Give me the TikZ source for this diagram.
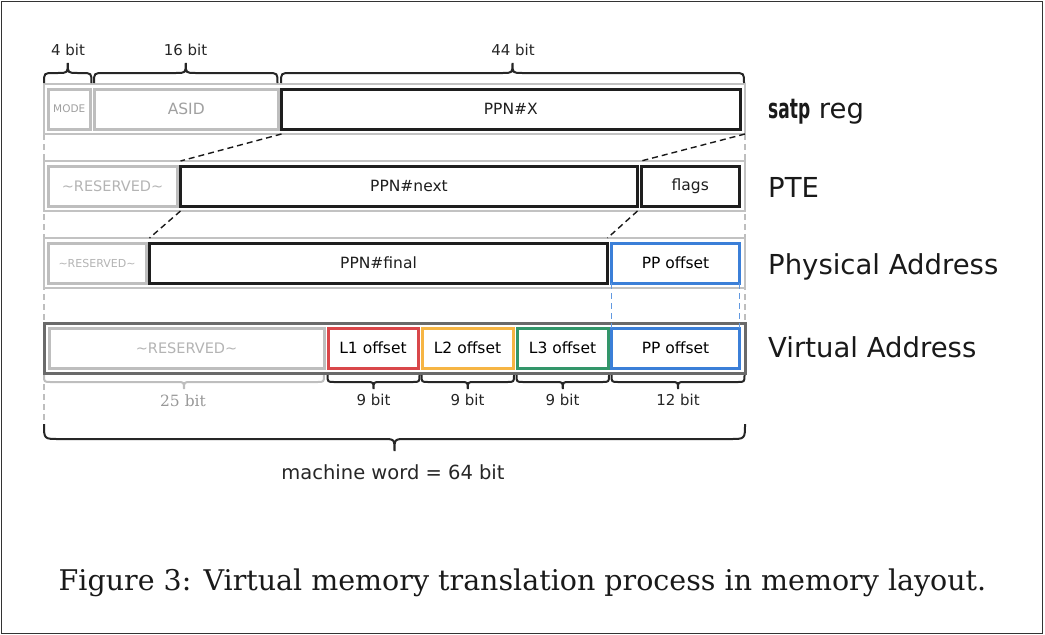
\documentclass[tikz,border=0pt]{standalone}
\usepackage{fontspec}
\setmainfont{DejaVu Sans}
\newfontfamily\capfont{DejaVu Serif}
\newfontfamily\satpfont{DejaVu Sans}[FakeStretch=0.62]
\usetikzlibrary{calc}
\definecolor{rowline}{HTML}{C2C2C2}
\definecolor{vaout}{HTML}{6A6A6A}
\definecolor{gboxc}{HTML}{BEBEBE}
\definecolor{gtext}{HTML}{A0A0A0}
\definecolor{ltext}{HTML}{B4B4B4}
\definecolor{kboxc}{HTML}{1E1E1E}
\definecolor{redc}{HTML}{D9474A}
\definecolor{orangec}{HTML}{F6B544}
\definecolor{greenc}{HTML}{33966A}
\definecolor{bluec}{HTML}{3B7FD8}
\definecolor{frame}{HTML}{333333}
\newcommand\fsz[1]{\fontsize{#1}{#1}\selectfont}
% brace: style, x1, x2, yEnd, yLine, yTip (y positive downward)
\newcommand\hbrace[6]{%
  \pgfmathsetmacro\bxm{(#2+#3)/2}%
  \pgfmathsetmacro\bra{abs(#4-#5)}%
  \pgfmathsetmacro\brb{abs(#6-#5)}%
  \draw[#1] (#2,-#4) .. controls (#2,-#5) .. ({#2+\bra},-#5)
    -- ({\bxm-\brb},-#5) .. controls (\bxm,-#5) .. (\bxm,-#6)
    .. controls (\bxm,-#5) .. ({\bxm+\brb},-#5)
    -- ({#3-\bra},-#5) .. controls (#3,-#5) .. (#3,-#4);}
\begin{document}
\begin{tikzpicture}[x=1pt,y=1pt,
  row/.style={draw=rowline,line width=2,fill=white,minimum width=701,minimum height=50,inner sep=0,outer sep=0},
  cell/.style={line width=3,minimum height=40,inner sep=0,outer sep=0,font=\fsz{15.5}},
  gbox/.style={cell,draw=gboxc,text=gtext},
  kbox/.style={cell,draw=kboxc,text=kboxc},
  lab/.style={anchor=base west,inner sep=0,font=\fsz{27.5},text=black!90},
  bitlab/.style={font=\fsz{15},text=black!85},
  brc/.style={line width=2,draw=black!85},
  gbrc/.style={line width=2,draw=gboxc},
  kdash/.style={line width=1.4,draw=black!90,dash pattern=on 6 off 4},
  gdash/.style={line width=1.5,draw=gboxc,dash pattern=on 6 off 4},
  bdash/.style={line width=1.2,draw=bluec!80,dash pattern=on 6 off 4}]
\useasboundingbox (0,0) rectangle (1045,-635);
\draw[frame,line width=1.5] (1.5,-1.5) rectangle (1042.5,-633.5);

% guide coordinates
\coordinate (gl1) at (44,-134);
\coordinate (gl2) at (44,-424);
\coordinate (gr1) at (745,-134);
\coordinate (gr2) at (745,-323);
\draw[gdash] (gl1) -- (gl2);
\draw[gdash] (gr1) -- (gr2);

% rows
\node[row] (row1) at (394.5,-109) {};
\node[row] (row2) at (394.5,-186) {};
\node[row] (row3) at (394.5,-263) {};
\node[row,draw=vaout,line width=3] (row4) at (394.5,-348) {};

% satp row
\node[gbox,minimum width=42.5,font=\fsz{10.5}] (mode) at (69.25,-109) {MODE};
\node[gbox,minimum width=183.5] (asid) at (186.25,-109) {ASID};
\node[kbox,minimum width=458.5] (ppnx) at (510.75,-109) {PPN\#X};

% PTE row
\node[gbox,minimum width=129,text=ltext,font=\fsz{14.5}] (res2) at (112.5,-186) {\char`\~RESERVED\char`\~};
\node[kbox,minimum width=457] (ppnnext) at (409,-186) {PPN\#next};
\node[kbox,minimum width=98.5] (flags) at (690.25,-186) {flags};

% PA row
\node[gbox,minimum width=98,text=ltext,font=\fsz{11}] (res3) at (97,-263) {\char`\~RESERVED\char`\~};
\node[kbox,minimum width=458] (ppnfinal) at (378.5,-263) {PPN\#final};
\node[cell,draw=bluec,minimum width=128] (pp3) at (675.5,-263) {PP offset};

% VA row
\node[gbox,minimum width=275,text=ltext,font=\fsz{14.5}] (res4) at (186.5,-348) {\char`\~RESERVED\char`\~};
\node[cell,draw=redc,minimum width=90] (l1) at (373,-348) {L1 offset};
\node[cell,draw=orangec,minimum width=91] (l2) at (467.5,-348) {L2 offset};
\node[cell,draw=greenc,minimum width=91] (l3) at (562.5,-348) {L3 offset};
\node[cell,draw=bluec,minimum width=128] (pp4) at (675.5,-348) {PP offset};

% translation dashes
\draw[kdash] (ppnx.south west |- row1.south) -- (ppnnext.north west |- row2.north);
\draw[kdash] (row1.south east) -- (flags.north west |- row2.north);
\draw[kdash] (ppnnext.south west |- row2.south) -- (ppnfinal.north west |- row3.north);
\draw[kdash] (ppnnext.south east |- row2.south) -- (ppnfinal.north east |- row3.north);
\draw[bdash] (pp3.south west) -- (pp4.north west);
\draw[bdash] (pp3.south east) -- (pp4.north east);

% top braces
\hbrace{brc}{44}{91.5}{83}{73}{63}
\hbrace{brc}{94}{277.5}{83}{73}{63}
\hbrace{brc}{281}{744}{83}{73}{63}
\node[bitlab] (b4) at (68,-50) {4 bit};
\node[bitlab] (b16) at (185.5,-50) {16 bit};
\node[bitlab] (b44) at (513,-50) {44 bit};

% bottom braces
\hbrace{gbrc}{44}{324}{375}{382}{389}
\hbrace{brc}{327.5}{419.5}{375}{382}{389}
\hbrace{brc}{421.5}{514}{375}{382}{389}
\hbrace{brc}{516.5}{609}{375}{382}{389}
\hbrace{brc}{611.5}{744.5}{375}{382}{389}
\node[font=\capfont\fsz{15.5},text=gboxc!80!black] (b25) at (183,-401) {25 bit};
\node[bitlab] (b9a) at (373.5,-400) {9 bit};
\node[bitlab] (b9b) at (467.5,-400) {9 bit};
\node[bitlab] (b9c) at (562.5,-400) {9 bit};
\node[bitlab] (b12) at (678,-400) {12 bit};

% machine word brace
\hbrace{brc}{44}{745}{424}{439}{451}
\node[font=\fsz{19.5},text=black!85] (mw) at (393,-472) {machine word = 64 bit};

% row labels
\node[lab] (lsatp) at (768,-118) {{\satpfont\bfseries satp} reg};
\node[lab] (lpte) at (768,-197) {PTE};
\node[lab] (lpa) at (768,-274) {Physical Address};
\node[lab] (lva) at (768,-357) {Virtual Address};

% caption
\node[anchor=base,inner sep=0,font=\capfont\fsz{28.5},text=black!90] (caption) at (522.5,-590) {Figure 3: Virtual memory translation process in memory layout.};
\end{tikzpicture}
\end{document}
